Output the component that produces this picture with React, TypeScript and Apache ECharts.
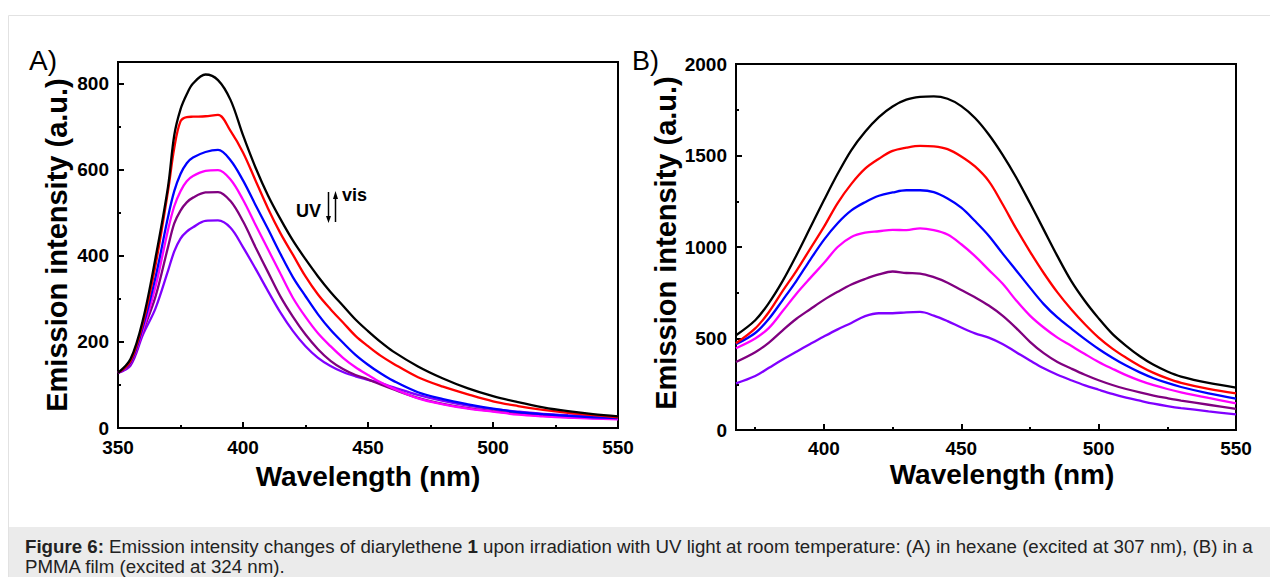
import React, { useEffect, useRef } from "react";
import * as echarts from "echarts";

// ---------- Panel A (hexane) ----------
const waveA = [350, 355, 360, 365, 370, 372.5, 375, 377.5, 380, 385, 390, 395, 400, 405, 410, 415, 420, 425, 430, 435, 440, 445, 450, 455, 460, 470, 480, 490, 500, 510, 520, 530, 540, 550];
const a0 = [128, 160, 252, 395, 560, 680, 740, 775, 800, 821, 808, 762, 680, 605, 540, 485, 435, 392, 352, 316, 284, 252, 225, 200, 178, 143, 115, 92, 74, 60, 48, 39, 32, 27];
const a1 = [128, 155, 244, 378, 550, 650, 712, 722, 723, 724, 727, 690, 640, 575, 510, 452, 402, 352, 310, 276, 245, 214, 190, 168, 150, 118, 96, 78, 62, 51, 42, 35, 30, 25];
const a2 = [128, 152, 236, 350, 490, 550, 590, 615, 628, 641, 646, 622, 575, 518, 462, 404, 350, 306, 264, 228, 198, 170, 147, 127, 110, 83, 67, 55, 45, 37, 32, 28, 25, 23];
const a3 = [128, 150, 228, 328, 460, 515, 550, 573, 585, 597, 599, 577, 530, 472, 415, 358, 302, 258, 220, 190, 163, 141, 123, 106, 92, 69, 55, 45, 38, 31, 27, 24, 22, 20];
const a4 = [128, 148, 225, 305, 420, 475, 505, 524, 535, 547, 548, 527, 480, 420, 362, 305, 258, 217, 183, 156, 137, 123, 113, 101, 90, 70, 56, 46, 39, 33, 28, 25, 23, 22];
const a5 = [128, 145, 217, 278, 365, 410, 440, 456, 466, 481, 482, 465, 420, 370, 318, 268, 225, 190, 163, 144, 130, 120, 112, 104, 95, 77, 63, 52, 44, 38, 33, 30, 28, 27];

// ---------- Panel B (PMMA film) ----------
const waveB = [368, 375, 380, 385, 390, 395, 400, 405, 410, 415, 420, 425, 430, 435, 440, 445, 450, 455, 460, 465, 470, 475, 480, 485, 490, 495, 500, 505, 510, 515, 520, 525, 530, 540, 550];
const b0 = [518, 600, 695, 815, 955, 1105, 1255, 1400, 1530, 1630, 1710, 1768, 1805, 1820, 1823, 1810, 1770, 1705, 1615, 1505, 1380, 1240, 1095, 950, 815, 705, 610, 525, 460, 403, 356, 320, 292, 257, 232];
const b1 = [474, 555, 645, 760, 870, 990, 1110, 1240, 1345, 1428, 1482, 1525, 1543, 1553, 1550, 1535, 1495, 1440, 1360, 1235, 1100, 975, 858, 752, 660, 578, 505, 445, 395, 350, 312, 282, 258, 225, 200];
const b2 = [469, 530, 608, 710, 815, 930, 1039, 1130, 1200, 1245, 1280, 1298, 1310, 1310, 1300, 1265, 1215, 1142, 1062, 965, 872, 778, 688, 615, 555, 497, 443, 395, 352, 315, 283, 257, 235, 200, 172];
const b3 = [447, 500, 558, 650, 745, 830, 912, 1000, 1055, 1078, 1086, 1094, 1092, 1102, 1092, 1068, 1015, 950, 875, 800, 708, 625, 560, 505, 460, 415, 372, 335, 300, 270, 245, 224, 206, 175, 146];
const b4 = [372, 425, 478, 545, 608, 660, 711, 755, 795, 825, 850, 866, 858, 855, 835, 805, 765, 725, 680, 625, 557, 482, 420, 372, 336, 302, 272, 246, 224, 205, 188, 174, 161, 138, 115];
const b5 = [255, 295, 340, 385, 428, 470, 511, 550, 585, 622, 638, 638, 643, 645, 625, 595, 560, 528, 505, 470, 425, 380, 337, 302, 272, 244, 220, 197, 177, 160, 144, 131, 120, 102, 85];

const seriesColors = ["#000000", "#ff0000", "#0000ff", "#ff00ff", "#800080", "#8000ff"];
const seriesA = [a0, a1, a2, a3, a4, a5];
const seriesB = [b0, b1, b2, b3, b4, b5];

const yMajorA = [0, 200, 400, 600, 800];
const yMinorA = [100, 300, 500, 700];
const xMajorB = [400, 450, 500, 550];
const xMinorB = [375, 425, 475, 525];

const FONT = "'Liberation Sans', Arial, sans-serif";

export default function App() {
  const ref = useRef<HTMLDivElement>(null);

  useEffect(() => {
    if (!ref.current) return;
    const chart = echarts.init(ref.current, undefined, { renderer: "svg" });

    const tickLabel = { color: "#000", fontSize: 19, fontWeight: "bold" as const, fontFamily: FONT, formatter: (v: number) => String(v) };
    const axLine = { show: true, lineStyle: { color: "#000", width: 2 } };
    const tickStyle = { color: "#000", width: 2 };

    const mk = (wave: number[], vals: number[]) => wave.map((w, i) => [w, vals[i]]);

    const series: any[] = [];
    seriesA.forEach((s, i) =>
      series.push({
        type: "line",
        xAxisIndex: 0,
        yAxisIndex: 0,
        data: mk(waveA, s),
        showSymbol: false,
        smooth: 0.35,
        lineStyle: { color: seriesColors[i], width: 2.3 },
        itemStyle: { color: seriesColors[i] },
        z: 10 - i,
      })
    );
    seriesB.forEach((s, i) =>
      series.push({
        type: "line",
        xAxisIndex: 1,
        yAxisIndex: 2,
        data: mk(waveB, s),
        showSymbol: false,
        smooth: 0.35,
        lineStyle: { color: seriesColors[i], width: 2.3 },
        itemStyle: { color: seriesColors[i] },
        z: 10 - i,
      })
    );

    const option: any = {
      animation: false,
      backgroundColor: "#ffffff",
      grid: [
        { left: 118, right: 652, top: 62, bottom: 149, show: true, borderColor: "#000", borderWidth: 2, backgroundColor: "transparent", containLabel: false },
        { left: 736, right: 34, top: 64, bottom: 147, show: true, borderColor: "#000", borderWidth: 2, backgroundColor: "transparent", containLabel: false },
      ],
      xAxis: [
        {
          type: "value",
          gridIndex: 0,
          min: 350,
          max: 550,
          interval: 50,
          axisLine: axLine,
          axisTick: { show: true, inside: true, length: 6, lineStyle: tickStyle },
          minorTick: { show: true, splitNumber: 2, length: 3, lineStyle: tickStyle },
          axisLabel: { ...tickLabel, margin: 10 },
          splitLine: { show: false },
        },
        {
          type: "value",
          gridIndex: 1,
          position: "bottom",
          min: 368,
          max: 550,
          axisLine: axLine,
          axisTick: { show: true, inside: true, length: 6, customValues: xMajorB, lineStyle: tickStyle },
          axisLabel: { ...tickLabel, margin: 9, customValues: xMajorB },
          splitLine: { show: false },
        },
        {
          type: "value",
          gridIndex: 1,
          position: "bottom",
          min: 368,
          max: 550,
          axisLine: { show: false },
          axisTick: { show: true, inside: true, length: 3, customValues: xMinorB, lineStyle: tickStyle },
          axisLabel: { show: false },
          splitLine: { show: false },
        },
      ],
      yAxis: [
        {
          type: "value",
          gridIndex: 0,
          position: "left",
          min: 0,
          max: 850,
          axisLine: axLine,
          axisTick: { show: true, inside: true, length: 6, customValues: yMajorA, lineStyle: tickStyle },
          axisLabel: { ...tickLabel, margin: 9, customValues: yMajorA },
          splitLine: { show: false },
        },
        {
          type: "value",
          gridIndex: 0,
          position: "left",
          min: 0,
          max: 850,
          axisLine: { show: false },
          axisTick: { show: true, inside: true, length: 3, customValues: yMinorA, lineStyle: tickStyle },
          axisLabel: { show: false },
          splitLine: { show: false },
        },
        {
          type: "value",
          gridIndex: 1,
          min: 0,
          max: 2000,
          interval: 500,
          axisLine: axLine,
          axisTick: { show: true, inside: true, length: 6, lineStyle: tickStyle },
          minorTick: { show: true, splitNumber: 2, length: 3, lineStyle: tickStyle },
          axisLabel: { ...tickLabel, margin: 9 },
          splitLine: { show: false },
        },
      ],
      series,
      graphic: [
        // outer frame
        { type: "rect", shape: { x: 8.5, y: 15.5, width: 1275, height: 570 }, style: { fill: "none", stroke: "#e2e2e2", lineWidth: 1 }, z: 0 },
        // caption background
        { type: "rect", shape: { x: 9, y: 527, width: 1270, height: 52 }, style: { fill: "#ebebeb" }, z: 0 },
        {
          type: "text",
          x: 25,
          y: 546,
          style: {
            text: "{b|Figure 6:} Emission intensity changes of diarylethene {b|1} upon irradiation with UV light at room temperature: (A) in hexane (excited at 307 nm), (B) in a",
            rich: { b: { fontWeight: "bold", fontSize: 18.7, fontFamily: FONT, fill: "#222" } },
            fontSize: 18.7,
            fontFamily: FONT,
            fill: "#222",
            verticalAlign: "middle",
          },
          z: 5,
        },
        {
          type: "text",
          x: 25,
          y: 566,
          style: { text: "PMMA film (excited at 324 nm).", fontSize: 18.7, fontFamily: FONT, fill: "#222", verticalAlign: "middle" },
          z: 5,
        },
        // panel labels
        { type: "text", x: 29, y: 60, style: { text: "A)", fontSize: 28, fontFamily: FONT, fill: "#000", verticalAlign: "middle" }, z: 5 },
        { type: "text", x: 632, y: 61, style: { text: "B)", fontSize: 27, fontFamily: FONT, fill: "#000", verticalAlign: "middle" }, z: 5 },
        // axis names
        { type: "text", x: 368, y: 476, style: { text: "Wavelength (nm)", fontSize: 28, fontWeight: "bold", fontFamily: FONT, fill: "#000", align: "center", verticalAlign: "middle" }, z: 5 },
        { type: "text", x: 1002, y: 474, style: { text: "Wavelength (nm)", fontSize: 28, fontWeight: "bold", fontFamily: FONT, fill: "#000", align: "center", verticalAlign: "middle" }, z: 5 },
        { type: "text", x: 57, y: 245, rotation: Math.PI / 2, style: { text: "Emission intensity (a.u.)", fontSize: 29, fontWeight: "bold", fontFamily: FONT, fill: "#000", align: "center", verticalAlign: "middle" }, z: 5 },
        { type: "text", x: 666, y: 243, rotation: Math.PI / 2, style: { text: "Emission intensity (a.u.)", fontSize: 29, fontWeight: "bold", fontFamily: FONT, fill: "#000", align: "center", verticalAlign: "middle" }, z: 5 },
        // UV / vis annotation
        { type: "text", x: 296, y: 211, style: { text: "UV", fontSize: 18, fontWeight: "bold", fontFamily: FONT, fill: "#000", verticalAlign: "middle" }, z: 5 },
        { type: "text", x: 342, y: 195, style: { text: "vis", fontSize: 18, fontWeight: "bold", fontFamily: FONT, fill: "#000", verticalAlign: "middle" }, z: 5 },
        { type: "line", shape: { x1: 328.5, y1: 192, x2: 328.5, y2: 218 }, style: { stroke: "#000", lineWidth: 1.5 }, z: 5 },
        { type: "polygon", shape: { points: [[326, 216], [331, 216], [328.5, 223]] }, style: { fill: "#000" }, z: 5 },
        { type: "line", shape: { x1: 335.5, y1: 197, x2: 335.5, y2: 222 }, style: { stroke: "#000", lineWidth: 1.5 }, z: 5 },
        { type: "polygon", shape: { points: [[333, 199], [338, 199], [335.5, 191]] }, style: { fill: "#000" }, z: 5 },
      ],
    };

    chart.setOption(option);
    return () => chart.dispose();
  }, []);

  return (
    <div
      ref={ref}
      style={{ position: "absolute", left: 0, top: 0, width: 1270, height: 577 }}
    />
  );
}
